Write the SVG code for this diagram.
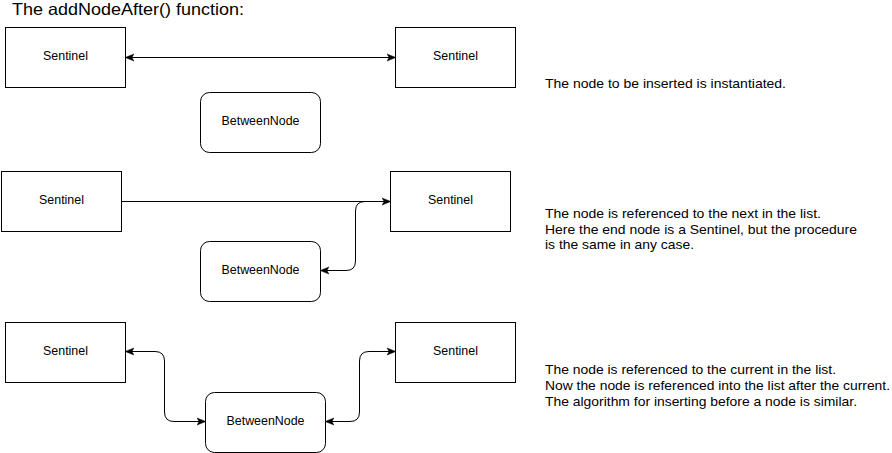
<svg xmlns="http://www.w3.org/2000/svg" width="892" height="453" viewBox="0 0 892 453">
<defs>
<style>
.box{fill:#fff;stroke:#000;stroke-width:1}
.lbl{font-family:"Liberation Sans",Arial,sans-serif;font-size:12.4px;fill:#000;text-anchor:middle;dominant-baseline:central}
.txt{font-family:"Liberation Sans",Arial,sans-serif;font-size:13.5px;fill:#000}
.edge{fill:none;stroke:#000;stroke-width:1}
</style>
<marker id="ah" viewBox="0 0 10 10" refX="9" refY="5" markerWidth="9" markerHeight="9" markerUnits="userSpaceOnUse" orient="auto-start-reverse">
<path d="M0,1 L10,5 L0,9 L2.5,5 Z" fill="#000" stroke="#000" stroke-width="0.5"/>
</marker>
</defs>
<rect width="892" height="453" fill="#fff"/>
<text class="txt" x="12" y="15" style="font-size:16.5px" textLength="232" lengthAdjust="spacingAndGlyphs">The addNodeAfter() function:</text>

<g id="s1a"><rect class="box" x="5.5" y="27.5" width="120" height="60"/><text class="lbl" x="65.5" y="56">Sentinel</text></g>
<g id="s1b"><rect class="box" x="395.5" y="27.5" width="120" height="60"/><text class="lbl" x="455.5" y="56">Sentinel</text></g>
<g id="b1"><rect class="box" x="200.5" y="92.5" width="120" height="60" rx="9"/><text class="lbl" x="260.5" y="121">BetweenNode</text></g>

<g id="s2a"><rect class="box" x="1.5" y="171.5" width="120" height="60"/><text class="lbl" x="61.5" y="200">Sentinel</text></g>
<g id="s2b"><rect class="box" x="390.5" y="171.5" width="120" height="60"/><text class="lbl" x="450.5" y="200">Sentinel</text></g>
<g id="b2"><rect class="box" x="200.5" y="241.5" width="120" height="60" rx="9"/><text class="lbl" x="260.5" y="270">BetweenNode</text></g>

<g id="s3a"><rect class="box" x="5.5" y="322.5" width="120" height="60"/><text class="lbl" x="65.5" y="351">Sentinel</text></g>
<g id="s3b"><rect class="box" x="395.5" y="322.5" width="120" height="60"/><text class="lbl" x="455.5" y="351">Sentinel</text></g>
<g id="b3"><rect class="box" x="205.5" y="392.5" width="120" height="60" rx="9"/><text class="lbl" x="265.5" y="421">BetweenNode</text></g>

<g id="connectors">
<path class="edge" d="M126,57.5 L395,57.5" marker-start="url(#ah)" marker-end="url(#ah)"/>
<path class="edge" d="M122,201.5 L390,201.5" marker-end="url(#ah)"/>
<path class="edge" d="M365,201.5 Q355.5,201.5 355.5,211 L355.5,261 Q355.5,270.5 346,270.5 L321,270.5" marker-end="url(#ah)"/>
<path class="edge" d="M126,351.5 L155,351.5 Q164.5,351.5 164.5,361 L164.5,412 Q164.5,421.5 174,421.5 L205,421.5" marker-start="url(#ah)" marker-end="url(#ah)"/>
<path class="edge" d="M326,421.5 L350,421.5 Q359.5,421.5 359.5,412 L359.5,361 Q359.5,351.5 369,351.5 L395,351.5" marker-start="url(#ah)" marker-end="url(#ah)"/>
</g>

<g id="notes">
<text class="txt" x="545" y="88" textLength="241" lengthAdjust="spacingAndGlyphs">The node to be inserted is instantiated.</text>
<text class="txt" x="545" y="218" textLength="276" lengthAdjust="spacingAndGlyphs">The node is referenced to the next in the list.</text>
<text class="txt" x="545" y="234" textLength="312" lengthAdjust="spacingAndGlyphs">Here the end node is a Sentinel, but the procedure</text>
<text class="txt" x="545" y="249" textLength="149" lengthAdjust="spacingAndGlyphs">is the same in any case.</text>
<text class="txt" x="545" y="374" textLength="291" lengthAdjust="spacingAndGlyphs">The node is referenced to the current in the list.</text>
<text class="txt" x="545" y="390" textLength="345" lengthAdjust="spacingAndGlyphs">Now the node is referenced into the list after the current.</text>
<text class="txt" x="545" y="406" textLength="312" lengthAdjust="spacingAndGlyphs">The algorithm for inserting before a node is similar.</text>
</g>
</svg>
